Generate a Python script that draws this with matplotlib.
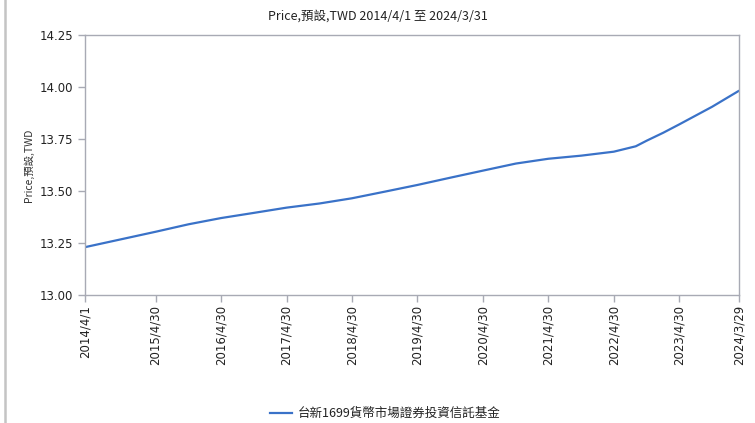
import matplotlib
matplotlib.use("Agg")
import matplotlib.pyplot as plt
from matplotlib.lines import Line2D
import pandas as pd

plt.rcParams['font.family'] = ['DejaVu Sans', 'Noto Sans CJK TC']

title = "Price,預設,TWD 2014/4/1 至 2024/3/31"
ylabel = "Price,預設,TWD"
series_name = "台新1699貨幣市場證券投資信託基金"

dates = ["2014-04-01", "2014-10-31", "2015-04-30", "2015-10-31", "2016-04-30",
         "2016-10-31", "2017-04-30", "2017-10-31", "2018-04-30", "2018-10-31",
         "2019-04-30", "2019-10-31", "2020-04-30", "2020-10-31", "2021-04-30",
         "2021-10-31", "2022-04-30", "2022-08-31", "2022-10-31", "2023-01-31",
         "2023-04-30", "2023-10-31", "2024-03-29"]
prices = [13.23, 13.27, 13.304, 13.34, 13.37,
          13.395, 13.42, 13.44, 13.465, 13.497,
          13.529, 13.564, 13.598, 13.632, 13.655,
          13.67, 13.689, 13.715, 13.742, 13.78,
          13.82, 13.905, 13.982]

tick_dates = ["2014-04-01", "2015-04-30", "2016-04-30", "2017-04-30", "2018-04-30",
              "2019-04-30", "2020-04-30", "2021-04-30", "2022-04-30", "2023-04-30",
              "2024-03-29"]
tick_labels = ["2014/4/1", "2015/4/30", "2016/4/30", "2017/4/30", "2018/4/30",
               "2019/4/30", "2020/4/30", "2021/4/30", "2022/4/30", "2023/4/30",
               "2024/3/29"]
y_ticks = [13.00, 13.25, 13.50, 13.75, 14.00, 14.25]

x = pd.to_datetime(dates)
xt = pd.to_datetime(tick_dates)

fig = plt.figure(figsize=(7.55, 4.23), dpi=100)
ax = fig.add_axes([85/755, 1 - 295/423, (739 - 85)/755, (295 - 35)/423])

ax.plot(x, prices, color="#3a72c8", lw=1.6, solid_capstyle="round", solid_joinstyle="round")

ax.set_xlim(xt[0], xt[-1])
ax.set_ylim(13.0, 14.25)
ax.set_xticks(xt)
ax.set_xticklabels(tick_labels, rotation=90, fontsize=8.5, color="#222222")
ax.set_yticks(y_ticks)
ax.set_yticklabels([f"{v:.2f}" for v in y_ticks], fontsize=8.5, color="#222222")

spine_color = "#a8aab4"
for s in ax.spines.values():
    s.set_color(spine_color)
    s.set_linewidth(1.0)
ax.tick_params(axis="both", colors=spine_color, length=5, width=1.0, labelcolor="#222222")
ax.tick_params(axis="x", pad=2)

ax.set_ylabel(ylabel, fontsize=7.5, color="#333333", family=['Noto Sans CJK TC', 'DejaVu Sans'], labelpad=4)
fig.text(378/755, 1 - 16/423, title, ha="center", va="center",
         fontsize=9, color="#222222", family=['Noto Sans CJK TC', 'DejaVu Sans'])

# legend
fig.add_artist(Line2D([270/755, 292/755], [1 - 413/423, 1 - 413/423], color="#3a72c8", lw=1.6,
                      transform=fig.transFigure))
fig.text(298/755, 1 - 413/423, series_name, ha="left", va="center", fontsize=9,
         color="#222222", family=['Noto Sans CJK TC', 'DejaVu Sans'])

# left frame line
fig.add_artist(Line2D([5/755, 5/755], [0, 1], color="#c4c4c4", lw=1.8, transform=fig.transFigure))

fig.savefig("out.png", dpi=100)
